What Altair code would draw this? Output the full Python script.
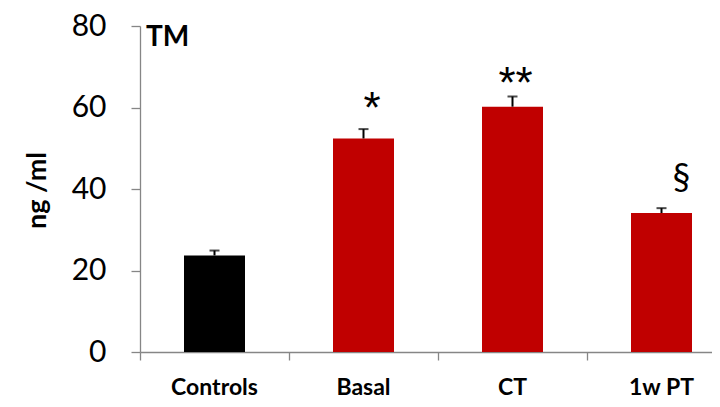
import altair as alt
import pandas as pd

categories = ["Controls", "Basal", "CT", "1w PT"]
values = [23.7, 52.4, 60.2, 34.1]
upper = [24.9, 54.7, 62.7, 35.3]
marks = ["", "*", "**", "§"]
mark_y = [None, 56.3, 62.3, 40.0]
y_ticks = [0, 20, 40, 60, 80]

df = pd.DataFrame({"category": categories, "value": values, "upper": upper,
                   "mark": marks, "mark_y": mark_y})

FONT = "Lato"
x_enc = alt.X("category:N", sort=categories, title=None,
              scale=alt.Scale(paddingInner=0, paddingOuter=0, range=[0, 596]),
              axis=alt.Axis(labelAngle=0, labelFont=FONT, labelFontWeight="bold",
                            labelFontSize=23, labelColor="black", labelPadding=34,
                            labelBaseline="alphabetic",
                            bandPosition=0, tickSize=8, tickColor="#868686",
                            domainColor="#868686", tickWidth=1.3, domainWidth=1.3))
y_scale = alt.Scale(domain=[0, 80], nice=False)
y_enc = alt.Y("value:Q", scale=y_scale, title="ng /ml",
              axis=alt.Axis(values=y_ticks, grid=False, labelFont=FONT, labelFontSize=30,
                            labelColor="black", labelPadding=25, tickSize=9,
                            tickColor="#868686", domainColor="#868686",
                            tickWidth=1.3, domainWidth=1.3,
                            titleFont=FONT, titleFontSize=27, titleFontWeight="bold",
                            titleColor="black", titleX=-95, titleY=164,
                            titleBaseline="alphabetic", titleAngle=-90))

base = alt.Chart(df)
bars = base.mark_bar(size=61).encode(
    x=x_enc, y=y_enc,
    color=alt.Color("category:N", scale=alt.Scale(domain=categories,
                    range=["#000000", "#C00000", "#C00000", "#C00000"]), legend=None))
err = base.mark_rule(color="black", strokeWidth=2).encode(
    x=alt.X("category:N", sort=categories), y=alt.Y("value:Q"), y2="upper:Q")
cap = base.mark_tick(color="black", thickness=2, size=10, orient="horizontal").encode(
    x=alt.X("category:N", sort=categories), y=alt.Y("upper:Q"))

layers = [bars, err, cap]
styles = {"*": (8.5, "Liberation Sans", 44), "**": (3, "Liberation Sans", 44),
          "§": (20, FONT, 36)}
for m, (dx, font, fs) in styles.items():
    layers.append(base.transform_filter(alt.datum.mark == m).mark_text(
        font=font, fontSize=fs, color="black", dx=dx, baseline="alphabetic").encode(
        x=alt.X("category:N", sort=categories), y=alt.Y("mark_y:Q"), text="mark:N"))

chart = alt.layer(*layers).properties(
    width=572, height=326,
    autosize=alt.AutoSizeParams(type="none"),
    padding={"left": 132, "top": 18, "right": 0, "bottom": 47},
    title=alt.Title("TM", anchor="start", frame="group", font=FONT, fontSize=28,
                    fontWeight="bold", color="black", offset=-41, dx=6, baseline="top"),
).configure_view(stroke=None)

chart.save("out.html", embed_options={"renderer": "svg", "actions": False})
